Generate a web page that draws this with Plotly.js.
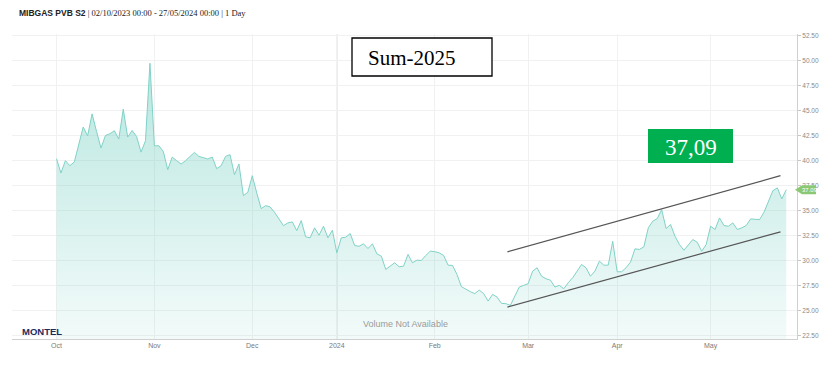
<!DOCTYPE html>
<html><head><meta charset="utf-8">
<script src="https://cdn.plot.ly/plotly-3.0.1.min.js"></script>
<style>html,body{margin:0;padding:0;background:#fff}#chart{width:838px;height:369px}</style>
</head><body><div id="chart"></div>
<script>
// Trading calendar
const monthKeys = ['2023-10','2023-11','2023-12','2024-01','2024-02','2024-03','2024-04','2024-05'];
const holidays = ['2023-12-25','2023-12-26','2024-01-01','2024-03-29','2024-04-01','2024-05-01'];
const lastDate = '2024-05-27';
const tickLabels = ['Oct','Nov','Dec','2024','Feb','Mar','Apr','May'];

// Daily settlement values (EUR/MWh), one small array per month
const octVals = [40.19,38.76,39.99,39.49,39.86,41.58,43.35,42.48,44.67,42.91,41.25,42.51,42.68,42.98,42.15,45.14,42.35,43.01,42.41,40.85,41.98,49.73];
const novVals = [41.48,41.48,40.92,39.09,40.35,39.99,39.66,39.99,40.42,40.82,40.42,40.32,40.16,40.35,39.19,39.49,40.42,40.59,38.59,39.66,36.50,36.83];
const decVals = [38.49,36.77,35.20,35.50,35.37,34.84,34.10,33.50,33.77,33.87,33.00,34.00,32.38,32.28,33.28,32.54,33.44,32.28,33.04];
const janVals = [30.78,32.28,32.34,32.71,31.51,31.44,31.68,31.21,31.68,30.68,30.45,29.12,29.45,29.79,29.39,29.45,30.62,29.79,30.05,30.02,30.52,30.95];
const febVals = [30.90,30.78,30.52,29.55,29.52,28.62,27.40,27.13,26.90,26.70,27.06,26.70,25.96,26.63,26.36,25.73,25.70,25.53,26.40,27.36,27.53];
const marVals = [27.70,28.95,29.29,28.45,28.19,28.05,27.36,27.53,27.19,27.79,28.29,28.95,29.62,29.29,28.45,28.95,29.95,29.55,29.55,31.94];
const aprVals = [28.89,28.89,29.29,29.85,31.18,31.12,31.38,33.28,33.94,34.20,35.10,33.21,33.61,32.44,31.61,31.04,31.54,32.11,31.84,30.94,31.61];
const mayVals = [33.44,33.11,34.27,33.51,33.44,33.77,33.11,33.28,33.51,34.17,34.17,34.10,34.84,36.00,37.00,37.27,36.17,37.09];
const lastPrice = 37.09;

// Hand-drawn trend channel (start / end)
const channelX = ['2024-02-23 08:00','2024-05-23 17:00'];
const upperY = [30.88, 38.49];
const lowerY = [25.36, 32.88];

const monthVals = [octVals,novVals,decVals,janVals,febVals,marVals,aprVals,mayVals];
const pad = n => String(n).padStart(2,'0');
const x = [], y = [], tickvals = [];
monthKeys.forEach((mk, mi) => {
  const [yy, mm] = mk.split('-').map(Number);
  const vals = monthVals[mi];
  let k = 0;
  for (let d = 1; d <= 31 && k < vals.length; d++) {
    const dt = new Date(Date.UTC(yy, mm-1, d));
    if (dt.getUTCMonth() !== mm-1) break;
    const dow = dt.getUTCDay();
    const s = yy + '-' + pad(mm) + '-' + pad(d);
    if (dow === 0 || dow === 6 || holidays.includes(s) || s > lastDate) continue;
    if (k === 0) tickvals.push(s);
    x.push(s); y.push(vals[k]); k++;
  }
});

const trace = {
  type:'scatter', mode:'lines', x:x, y:y,
  line:{color:'#80d2c7', width:1},
  fill:'tozeroy',
  fillgradient:{type:'vertical', start:22.2, stop:47,
    colorscale:[[0,'rgba(95,200,185,0.08)'],[1,'rgba(95,200,185,0.40)']]},
  hoverinfo:'skip'
};

const L = 12, R = 797, T = 34, B = 339;
const px = v => (v - L) / (R - L);
const py = v => (B - v) / (B - T);

const layout = {
  width:838, height:369,
  margin:{l:L, r:838-R, t:T, b:369-B, pad:0},
  paper_bgcolor:'#ffffff', plot_bgcolor:'#ffffff',
  showlegend:false,
  font:{family:'Liberation Sans, Arial, sans-serif'},
  xaxis:{type:'date', range:['2023-09-18','2024-05-29 10:00'],
    rangebreaks:[{pattern:'day of week', bounds:[6,1]},{values:holidays}],
    tickmode:'array', tickvals:tickvals, ticktext:tickLabels,
    tickfont:{size:7, color:'#7a7a7a'}, ticks:'', 
    showgrid:true, gridcolor:'#f1f1f1', gridwidth:1,
    showline:true, linecolor:'#d0d0d0', linewidth:1, zeroline:false},
  yaxis:{side:'right', range:[22.17,52.65], tick0:22.5, dtick:2.5, tickformat:'.2f',
    ticks:'outside', ticklen:3, tickcolor:'#c8c8c8',
    tickfont:{size:6.5, color:'#8a8a8a'},
    showgrid:true, gridcolor:'#f1f1f1', gridwidth:1,
    showline:true, linecolor:'#d0d0d0', linewidth:1, zeroline:false},
  shapes:[
    {type:'line', xref:'x', yref:'paper', x0:tickvals[3], x1:tickvals[3], y0:0, y1:1,
     line:{color:'#e2e2e2', width:1.5}, layer:'below'},
    {type:'line', xref:'x', yref:'y', x0:channelX[0], x1:channelX[1], y0:upperY[0], y1:upperY[1],
     line:{color:'#555555', width:1.2}},
    {type:'line', xref:'x', yref:'y', x0:channelX[0], x1:channelX[1], y0:lowerY[0], y1:lowerY[1],
     line:{color:'#555555', width:1.2}},
    {type:'rect', xref:'paper', yref:'paper', x0:px(352), x1:px(492), y0:py(76), y1:py(38),
     fillcolor:'#ffffff', line:{color:'#000000', width:1.3}},
    {type:'rect', xref:'paper', yref:'paper', x0:px(648), x1:px(733), y0:py(163), y1:py(129),
     fillcolor:'#00b050', line:{width:0}},
    {type:'path', xref:'paper', yref:'y', xsizemode:'pixel', ysizemode:'pixel',
     xanchor:1, yanchor:lastPrice,
     path:'M -2,0 L 5,-4.5 L 19,-4.5 L 19,4.5 L 5,4.5 Z',
     fillcolor:'#8cc873', line:{width:0}}
  ],
  annotations:[
    {xref:'paper', yref:'paper', x:px(17), y:py(13), xanchor:'left', yanchor:'middle', showarrow:false,
     text:'<b>MIBGAS PVB S2</b><span style="font-family:Liberation Serif, serif"> | 02/10/2023 00:00 - 27/05/2024 00:00 | 1 Day</span>',
     font:{size:8.5, color:'#222222', family:'Liberation Sans, Arial, sans-serif'}},
    {xref:'paper', yref:'paper', x:px(366), y:py(58), xanchor:'left', yanchor:'middle', showarrow:false,
     text:'Sum-2025', font:{size:21, color:'#000000', family:'Liberation Serif, serif'}},
    {xref:'paper', yref:'paper', x:px(690.5), y:py(147), xanchor:'center', yanchor:'middle', showarrow:false,
     text:'37,09', font:{size:23, color:'#ffffff', family:'Liberation Serif, serif'}},
    {xref:'paper', yref:'y', x:1, y:lastPrice, xanchor:'left', yanchor:'middle', xshift:3, showarrow:false,
     text:'37.09', font:{size:6, color:'#ffffff'}},
    {xref:'paper', yref:'paper', x:px(405), y:py(324), xanchor:'center', yanchor:'middle', showarrow:false,
     text:'Volume Not Available', font:{size:9, color:'#9a9a9a'}},
    {xref:'paper', yref:'paper', x:px(20), y:py(331), xanchor:'left', yanchor:'middle', showarrow:false,
     text:'<b>MONTEL</b>', font:{size:9.5, color:'#1c2b5e'}}
  ]
};

Plotly.newPlot('chart', [trace], layout, {displayModeBar:false, staticPlot:true});
</script></body></html>
